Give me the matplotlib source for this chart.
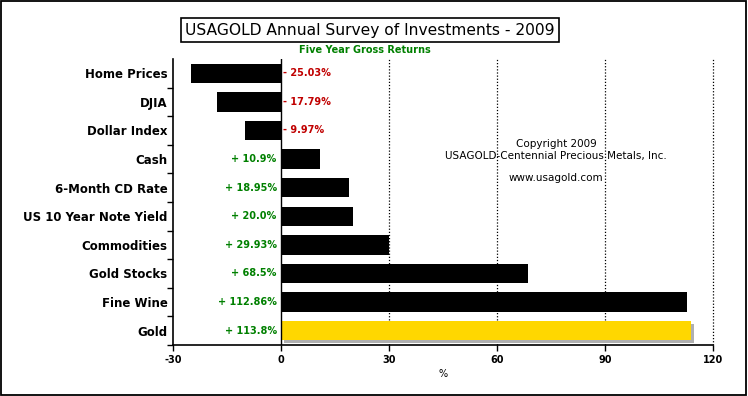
import matplotlib
matplotlib.use("Agg")
import matplotlib.pyplot as plt
from matplotlib.patches import Rectangle

categories = ["Home Prices", "DJIA", "Dollar Index", "Cash", "6-Month CD Rate",
              "US 10 Year Note Yield", "Commodities", "Gold Stocks", "Fine Wine", "Gold"]
values = [-25.03, -17.79, -9.97, 10.9, 18.95, 20.0, 29.93, 68.5, 112.86, 113.8]
value_labels = ["- 25.03%", "- 17.79%", "- 9.97%", "+ 10.9%", "+ 18.95%", "+ 20.0%",
                "+ 29.93%", "+ 68.5%", "+ 112.86%", "+ 113.8%"]
xticks = [-30, 0, 30, 60, 90, 120]

plt.rcParams['font.family'] = ['DejaVu Sans']

fig = plt.figure(figsize=(7.48, 3.96), dpi=100)
fig.patch.set_facecolor("white")
# figure border
fig.add_artist(Rectangle((0.001, 0.002), 0.996, 0.996, transform=fig.transFigure,
                         fill=False, edgecolor="black", linewidth=1.3))

ax = fig.add_axes([173/748, 1-345/396, 540/748, 286/396])
n = len(categories)
ys = list(range(n))
colors = ["black"] * (n - 1) + ["#FFD700"]

for i, (v, c) in enumerate(zip(values, colors)):
    if c != "black":
        # shadow for gold bar
        ax.barh(i + 0.1, v, height=0.68, left=0.8, color="#b0b0b0", zorder=2)
    ax.barh(i, v, height=0.68, color=c, zorder=3)

ax.set_xlim(-30, 120)
ax.set_ylim(n - 0.5, -0.5)

for x in [30, 60, 90, 120]:
    ax.axvline(x, color="black", linestyle=(0, (1, 1.5)), linewidth=0.9, zorder=1,
               clip_on=False)
ax.axvline(0, color="black", linewidth=1.0, zorder=4)

for i, (v, lab) in enumerate(zip(values, value_labels)):
    if v < 0:
        ax.text(0.6, i, lab, color="#C00000", fontsize=7, fontweight="bold",
                ha="left", va="center", zorder=5)
    else:
        ax.text(-1.2, i, lab, color="#008000", fontsize=7, fontweight="bold",
                ha="right", va="center", zorder=5)

ax.set_xticks(xticks)
ax.set_xticklabels([str(t) for t in xticks], fontsize=7, fontweight="bold")
ax.tick_params(axis="x", length=4, width=1, pad=3)

ax.set_yticks(ys)
ax.set_yticklabels(categories, fontsize=8.5, fontweight="bold")
ax.tick_params(axis="y", which="major", length=0, pad=4)
ax.set_yticks([i + 0.5 for i in range(n)], minor=True)
ax.tick_params(axis="y", which="minor", length=4, width=1)

ax.spines["top"].set_visible(False)
ax.spines["right"].set_visible(False)
ax.spines["left"].set_linewidth(1.2)
ax.spines["bottom"].set_linewidth(1.2)

ax.set_xlabel("%", fontsize=7, labelpad=3)

# title box
fig.text(370/748, 1-30/396, "USAGOLD Annual Survey of Investments - 2009",
         fontsize=11.2, ha="center", va="center",
         bbox=dict(boxstyle="square,pad=0.3", facecolor="white", edgecolor="black", linewidth=1.2))
fig.text(365/748, 1-50/396, "Five Year Gross Returns", fontsize=7, fontweight="bold",
         color="#008000", ha="center", va="center")

# copyright
fig.text(556/748, 1-144/396, "Copyright 2009", fontsize=7.5, ha="center", va="center")
fig.text(556/748, 1-156/396, "USAGOLD-Centennial Precious Metals, Inc.", fontsize=7.5,
         ha="center", va="center")
fig.text(556/748, 1-178/396, "www.usagold.com", fontsize=7.5, ha="center", va="center")

fig.savefig("out.png", dpi=100, facecolor="white")
